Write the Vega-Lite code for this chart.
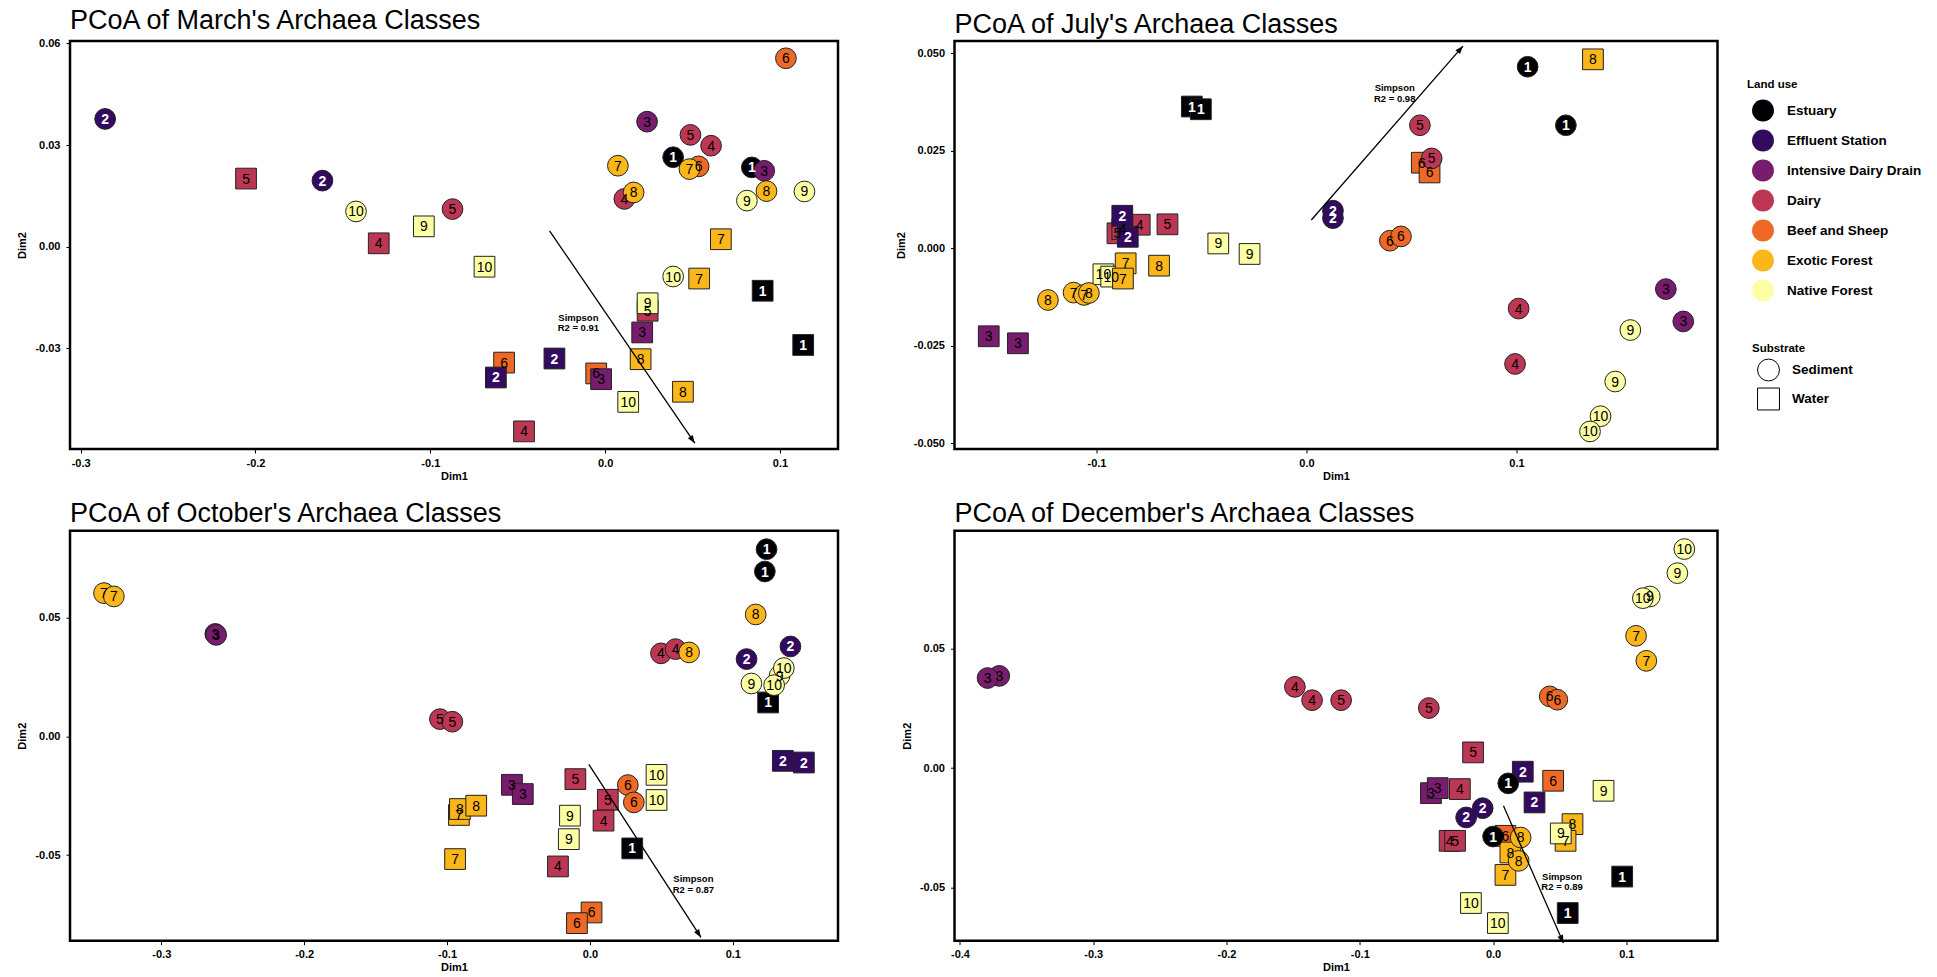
{
  "$schema": "https://vega.github.io/schema/vega-lite/v6.json",
  "background": "white",
  "padding": {"left": 15, "top": 5, "right": 0, "bottom": 0},
  "datasets": {
    "points": [
      {"month":"March","site":5,"substrate":"Water","landuse":"Dairy","dim1":-0.2054,"dim2":0.0201},
      {"month":"March","site":9,"substrate":"Water","landuse":"Native Forest","dim1":-0.1037,"dim2":0.006},
      {"month":"March","site":4,"substrate":"Water","landuse":"Dairy","dim1":-0.1295,"dim2":0.001},
      {"month":"March","site":10,"substrate":"Water","landuse":"Native Forest","dim1":-0.069,"dim2":-0.0059},
      {"month":"March","site":7,"substrate":"Water","landuse":"Exotic Forest","dim1":0.0662,"dim2":0.0022},
      {"month":"March","site":7,"substrate":"Water","landuse":"Exotic Forest","dim1":0.0538,"dim2":-0.0094},
      {"month":"March","site":1,"substrate":"Water","landuse":"Estuary","dim1":0.0901,"dim2":-0.013},
      {"month":"March","site":1,"substrate":"Water","landuse":"Estuary","dim1":0.1133,"dim2":-0.029},
      {"month":"March","site":5,"substrate":"Water","landuse":"Dairy","dim1":0.0243,"dim2":-0.0189},
      {"month":"March","site":9,"substrate":"Water","landuse":"Native Forest","dim1":0.0243,"dim2":-0.0167},
      {"month":"March","site":3,"substrate":"Water","landuse":"Intensive Dairy Drain","dim1":0.0212,"dim2":-0.0253},
      {"month":"March","site":8,"substrate":"Water","landuse":"Exotic Forest","dim1":0.0203,"dim2":-0.0332},
      {"month":"March","site":6,"substrate":"Water","landuse":"Beef and Sheep","dim1":-0.0578,"dim2":-0.0342},
      {"month":"March","site":2,"substrate":"Water","landuse":"Effluent Station","dim1":-0.029,"dim2":-0.033},
      {"month":"March","site":2,"substrate":"Water","landuse":"Effluent Station","dim1":-0.0625,"dim2":-0.0386},
      {"month":"March","site":6,"substrate":"Water","landuse":"Beef and Sheep","dim1":-0.0051,"dim2":-0.0374},
      {"month":"March","site":3,"substrate":"Water","landuse":"Intensive Dairy Drain","dim1":-0.0023,"dim2":-0.0391},
      {"month":"March","site":8,"substrate":"Water","landuse":"Exotic Forest","dim1":0.0445,"dim2":-0.0428},
      {"month":"March","site":10,"substrate":"Water","landuse":"Native Forest","dim1":0.0132,"dim2":-0.0458},
      {"month":"March","site":4,"substrate":"Water","landuse":"Dairy","dim1":-0.0464,"dim2":-0.0545},
      {"month":"March","site":2,"substrate":"Sediment","landuse":"Effluent Station","dim1":-0.286,"dim2":0.0377},
      {"month":"March","site":2,"substrate":"Sediment","landuse":"Effluent Station","dim1":-0.1617,"dim2":0.0195},
      {"month":"March","site":10,"substrate":"Sediment","landuse":"Native Forest","dim1":-0.1425,"dim2":0.0104},
      {"month":"March","site":5,"substrate":"Sediment","landuse":"Dairy","dim1":-0.0873,"dim2":0.0111},
      {"month":"March","site":3,"substrate":"Sediment","landuse":"Intensive Dairy Drain","dim1":0.024,"dim2":0.0369},
      {"month":"March","site":5,"substrate":"Sediment","landuse":"Dairy","dim1":0.0488,"dim2":0.033},
      {"month":"March","site":4,"substrate":"Sediment","landuse":"Dairy","dim1":0.0606,"dim2":0.0298},
      {"month":"March","site":1,"substrate":"Sediment","landuse":"Estuary","dim1":0.0389,"dim2":0.0264},
      {"month":"March","site":7,"substrate":"Sediment","landuse":"Exotic Forest","dim1":0.0073,"dim2":0.0239},
      {"month":"March","site":6,"substrate":"Sediment","landuse":"Beef and Sheep","dim1":0.0535,"dim2":0.0237},
      {"month":"March","site":7,"substrate":"Sediment","landuse":"Exotic Forest","dim1":0.0482,"dim2":0.0229},
      {"month":"March","site":1,"substrate":"Sediment","landuse":"Estuary","dim1":0.0839,"dim2":0.0234},
      {"month":"March","site":3,"substrate":"Sediment","landuse":"Intensive Dairy Drain","dim1":0.091,"dim2":0.0224},
      {"month":"March","site":4,"substrate":"Sediment","landuse":"Dairy","dim1":0.011,"dim2":0.0141},
      {"month":"March","site":8,"substrate":"Sediment","landuse":"Exotic Forest","dim1":0.0163,"dim2":0.016},
      {"month":"March","site":9,"substrate":"Sediment","landuse":"Native Forest","dim1":0.0811,"dim2":0.0136},
      {"month":"March","site":8,"substrate":"Sediment","landuse":"Exotic Forest","dim1":0.0923,"dim2":0.0164},
      {"month":"March","site":9,"substrate":"Sediment","landuse":"Native Forest","dim1":0.114,"dim2":0.0163},
      {"month":"March","site":10,"substrate":"Sediment","landuse":"Native Forest","dim1":0.0389,"dim2":-0.0088},
      {"month":"March","site":6,"substrate":"Sediment","landuse":"Beef and Sheep","dim1":0.1034,"dim2":0.0556},

      {"month":"July","site":8,"substrate":"Water","landuse":"Exotic Forest","dim1":0.1364,"dim2":0.0484},
      {"month":"July","site":1,"substrate":"Water","landuse":"Estuary","dim1":-0.0546,"dim2":0.0363},
      {"month":"July","site":1,"substrate":"Water","landuse":"Estuary","dim1":-0.0503,"dim2":0.0356},
      {"month":"July","site":6,"substrate":"Water","landuse":"Beef and Sheep","dim1":0.0549,"dim2":0.0219},
      {"month":"July","site":6,"substrate":"Water","landuse":"Beef and Sheep","dim1":0.0586,"dim2":0.0194},
      {"month":"July","site":4,"substrate":"Water","landuse":"Dairy","dim1":-0.0794,"dim2":0.006},
      {"month":"July","site":5,"substrate":"Water","landuse":"Dairy","dim1":-0.0662,"dim2":0.0061},
      {"month":"July","site":5,"substrate":"Water","landuse":"Dairy","dim1":-0.09,"dim2":0.0038},
      {"month":"July","site":4,"substrate":"Water","landuse":"Dairy","dim1":-0.0877,"dim2":0.0049},
      {"month":"July","site":2,"substrate":"Water","landuse":"Effluent Station","dim1":-0.0877,"dim2":0.0083},
      {"month":"July","site":2,"substrate":"Water","landuse":"Effluent Station","dim1":-0.0851,"dim2":0.0029},
      {"month":"July","site":9,"substrate":"Water","landuse":"Native Forest","dim1":-0.042,"dim2":0.0012},
      {"month":"July","site":9,"substrate":"Water","landuse":"Native Forest","dim1":-0.0271,"dim2":-0.0015},
      {"month":"July","site":10,"substrate":"Water","landuse":"Native Forest","dim1":-0.0967,"dim2":-0.0067},
      {"month":"July","site":10,"substrate":"Water","landuse":"Native Forest","dim1":-0.093,"dim2":-0.0073},
      {"month":"July","site":7,"substrate":"Water","landuse":"Exotic Forest","dim1":-0.0861,"dim2":-0.0039},
      {"month":"July","site":7,"substrate":"Water","landuse":"Exotic Forest","dim1":-0.0874,"dim2":-0.0078},
      {"month":"July","site":8,"substrate":"Water","landuse":"Exotic Forest","dim1":-0.0702,"dim2":-0.0045},
      {"month":"July","site":3,"substrate":"Water","landuse":"Intensive Dairy Drain","dim1":-0.1513,"dim2":-0.0226},
      {"month":"July","site":3,"substrate":"Water","landuse":"Intensive Dairy Drain","dim1":-0.1374,"dim2":-0.0244},
      {"month":"July","site":1,"substrate":"Sediment","landuse":"Estuary","dim1":0.1053,"dim2":0.0465},
      {"month":"July","site":1,"substrate":"Sediment","landuse":"Estuary","dim1":0.1235,"dim2":0.0315},
      {"month":"July","site":5,"substrate":"Sediment","landuse":"Dairy","dim1":0.054,"dim2":0.0315},
      {"month":"July","site":5,"substrate":"Sediment","landuse":"Dairy","dim1":0.0596,"dim2":0.023},
      {"month":"July","site":2,"substrate":"Sediment","landuse":"Effluent Station","dim1":0.0126,"dim2":0.0096},
      {"month":"July","site":2,"substrate":"Sediment","landuse":"Effluent Station","dim1":0.0126,"dim2":0.0077},
      {"month":"July","site":6,"substrate":"Sediment","landuse":"Beef and Sheep","dim1":0.0397,"dim2":0.0019},
      {"month":"July","site":6,"substrate":"Sediment","landuse":"Beef and Sheep","dim1":0.045,"dim2":0.003},
      {"month":"July","site":8,"substrate":"Sediment","landuse":"Exotic Forest","dim1":-0.1231,"dim2":-0.0133},
      {"month":"July","site":7,"substrate":"Sediment","landuse":"Exotic Forest","dim1":-0.1109,"dim2":-0.0114},
      {"month":"July","site":7,"substrate":"Sediment","landuse":"Exotic Forest","dim1":-0.1059,"dim2":-0.012},
      {"month":"July","site":8,"substrate":"Sediment","landuse":"Exotic Forest","dim1":-0.1036,"dim2":-0.0115},
      {"month":"July","site":4,"substrate":"Sediment","landuse":"Dairy","dim1":0.101,"dim2":-0.0155},
      {"month":"July","site":4,"substrate":"Sediment","landuse":"Dairy","dim1":0.0993,"dim2":-0.0297},
      {"month":"July","site":3,"substrate":"Sediment","landuse":"Intensive Dairy Drain","dim1":0.1711,"dim2":-0.0105},
      {"month":"July","site":3,"substrate":"Sediment","landuse":"Intensive Dairy Drain","dim1":0.1794,"dim2":-0.0188},
      {"month":"July","site":9,"substrate":"Sediment","landuse":"Native Forest","dim1":0.1542,"dim2":-0.021},
      {"month":"July","site":9,"substrate":"Sediment","landuse":"Native Forest","dim1":0.147,"dim2":-0.0342},
      {"month":"July","site":10,"substrate":"Sediment","landuse":"Native Forest","dim1":0.14,"dim2":-0.0431},
      {"month":"July","site":10,"substrate":"Sediment","landuse":"Native Forest","dim1":0.135,"dim2":-0.047},

      {"month":"October","site":1,"substrate":"Water","landuse":"Estuary","dim1":0.1247,"dim2":0.0143},
      {"month":"October","site":2,"substrate":"Water","landuse":"Effluent Station","dim1":0.135,"dim2":-0.0103},
      {"month":"October","site":2,"substrate":"Water","landuse":"Effluent Station","dim1":0.1497,"dim2":-0.011},
      {"month":"October","site":10,"substrate":"Water","landuse":"Native Forest","dim1":0.0466,"dim2":-0.0162},
      {"month":"October","site":10,"substrate":"Water","landuse":"Native Forest","dim1":0.0466,"dim2":-0.0268},
      {"month":"October","site":5,"substrate":"Water","landuse":"Dairy","dim1":-0.0102,"dim2":-0.018},
      {"month":"October","site":5,"substrate":"Water","landuse":"Dairy","dim1":0.0125,"dim2":-0.0267},
      {"month":"October","site":3,"substrate":"Water","landuse":"Intensive Dairy Drain","dim1":-0.0546,"dim2":-0.0204},
      {"month":"October","site":3,"substrate":"Water","landuse":"Intensive Dairy Drain","dim1":-0.047,"dim2":-0.0243},
      {"month":"October","site":7,"substrate":"Water","landuse":"Exotic Forest","dim1":-0.0917,"dim2":-0.0331},
      {"month":"October","site":8,"substrate":"Water","landuse":"Exotic Forest","dim1":-0.091,"dim2":-0.0306},
      {"month":"October","site":8,"substrate":"Water","landuse":"Exotic Forest","dim1":-0.0796,"dim2":-0.0292},
      {"month":"October","site":7,"substrate":"Water","landuse":"Exotic Forest","dim1":-0.0944,"dim2":-0.0517},
      {"month":"October","site":9,"substrate":"Water","landuse":"Native Forest","dim1":-0.014,"dim2":-0.0334},
      {"month":"October","site":9,"substrate":"Water","landuse":"Native Forest","dim1":-0.0148,"dim2":-0.0433},
      {"month":"October","site":4,"substrate":"Water","landuse":"Dairy","dim1":0.0095,"dim2":-0.0355},
      {"month":"October","site":4,"substrate":"Water","landuse":"Dairy","dim1":-0.0224,"dim2":-0.0548},
      {"month":"October","site":1,"substrate":"Water","landuse":"Estuary","dim1":0.0296,"dim2":-0.0472},
      {"month":"October","site":6,"substrate":"Water","landuse":"Beef and Sheep","dim1":0.0011,"dim2":-0.0742},
      {"month":"October","site":6,"substrate":"Water","landuse":"Beef and Sheep","dim1":-0.0091,"dim2":-0.0787},
      {"month":"October","site":1,"substrate":"Sediment","landuse":"Estuary","dim1":0.1236,"dim2":0.0789},
      {"month":"October","site":1,"substrate":"Sediment","landuse":"Estuary","dim1":0.1224,"dim2":0.0695},
      {"month":"October","site":7,"substrate":"Sediment","landuse":"Exotic Forest","dim1":-0.3401,"dim2":0.0604},
      {"month":"October","site":7,"substrate":"Sediment","landuse":"Exotic Forest","dim1":-0.3332,"dim2":0.059},
      {"month":"October","site":3,"substrate":"Sediment","landuse":"Intensive Dairy Drain","dim1":-0.2622,"dim2":0.0432},
      {"month":"October","site":3,"substrate":"Sediment","landuse":"Intensive Dairy Drain","dim1":-0.2616,"dim2":0.0428},
      {"month":"October","site":8,"substrate":"Sediment","landuse":"Exotic Forest","dim1":0.116,"dim2":0.0514},
      {"month":"October","site":4,"substrate":"Sediment","landuse":"Dairy","dim1":0.0497,"dim2":0.035},
      {"month":"October","site":4,"substrate":"Sediment","landuse":"Dairy","dim1":0.0599,"dim2":0.0368},
      {"month":"October","site":8,"substrate":"Sediment","landuse":"Exotic Forest","dim1":0.0694,"dim2":0.0354},
      {"month":"October","site":2,"substrate":"Sediment","landuse":"Effluent Station","dim1":0.1403,"dim2":0.0379},
      {"month":"October","site":2,"substrate":"Sediment","landuse":"Effluent Station","dim1":0.1096,"dim2":0.0326},
      {"month":"October","site":9,"substrate":"Sediment","landuse":"Native Forest","dim1":0.1327,"dim2":0.0256},
      {"month":"October","site":10,"substrate":"Sediment","landuse":"Native Forest","dim1":0.1357,"dim2":0.0288},
      {"month":"October","site":9,"substrate":"Sediment","landuse":"Native Forest","dim1":0.113,"dim2":0.0223},
      {"month":"October","site":10,"substrate":"Sediment","landuse":"Native Forest","dim1":0.1289,"dim2":0.0216},
      {"month":"October","site":5,"substrate":"Sediment","landuse":"Dairy","dim1":-0.105,"dim2":0.0073},
      {"month":"October","site":5,"substrate":"Sediment","landuse":"Dairy","dim1":-0.0963,"dim2":0.0062},
      {"month":"October","site":6,"substrate":"Sediment","landuse":"Beef and Sheep","dim1":0.0265,"dim2":-0.0205},
      {"month":"October","site":6,"substrate":"Sediment","landuse":"Beef and Sheep","dim1":0.0307,"dim2":-0.0278},

      {"month":"December","site":5,"substrate":"Water","landuse":"Dairy","dim1":-0.015,"dim2":0.0066},
      {"month":"December","site":2,"substrate":"Water","landuse":"Effluent Station","dim1":0.0223,"dim2":-0.0015},
      {"month":"December","site":6,"substrate":"Water","landuse":"Beef and Sheep","dim1":0.0451,"dim2":-0.0053},
      {"month":"December","site":9,"substrate":"Water","landuse":"Native Forest","dim1":0.0829,"dim2":-0.0095},
      {"month":"December","site":3,"substrate":"Water","landuse":"Intensive Dairy Drain","dim1":-0.0466,"dim2":-0.0105},
      {"month":"December","site":3,"substrate":"Water","landuse":"Intensive Dairy Drain","dim1":-0.0415,"dim2":-0.0084},
      {"month":"December","site":4,"substrate":"Water","landuse":"Dairy","dim1":-0.0249,"dim2":-0.0088},
      {"month":"December","site":2,"substrate":"Water","landuse":"Effluent Station","dim1":0.0311,"dim2":-0.0144},
      {"month":"December","site":8,"substrate":"Water","landuse":"Exotic Forest","dim1":0.0596,"dim2":-0.0235},
      {"month":"December","site":7,"substrate":"Water","landuse":"Exotic Forest","dim1":0.0544,"dim2":-0.0305},
      {"month":"December","site":9,"substrate":"Water","landuse":"Native Forest","dim1":0.0508,"dim2":-0.0274},
      {"month":"December","site":4,"substrate":"Water","landuse":"Dairy","dim1":-0.0326,"dim2":-0.0305},
      {"month":"December","site":5,"substrate":"Water","landuse":"Dairy","dim1":-0.0285,"dim2":-0.0305},
      {"month":"December","site":6,"substrate":"Water","landuse":"Beef and Sheep","dim1":0.0093,"dim2":-0.0284},
      {"month":"December","site":8,"substrate":"Water","landuse":"Exotic Forest","dim1":0.013,"dim2":-0.0354},
      {"month":"December","site":7,"substrate":"Water","landuse":"Exotic Forest","dim1":0.0093,"dim2":-0.0448},
      {"month":"December","site":1,"substrate":"Water","landuse":"Estuary","dim1":0.0969,"dim2":-0.0455},
      {"month":"December","site":1,"substrate":"Water","landuse":"Estuary","dim1":0.056,"dim2":-0.0608},
      {"month":"December","site":10,"substrate":"Water","landuse":"Native Forest","dim1":-0.0166,"dim2":-0.0566},
      {"month":"December","site":10,"substrate":"Water","landuse":"Native Forest","dim1":0.0036,"dim2":-0.065},
      {"month":"December","site":10,"substrate":"Sediment","landuse":"Native Forest","dim1":0.1435,"dim2":0.0919},
      {"month":"December","site":9,"substrate":"Sediment","landuse":"Native Forest","dim1":0.1383,"dim2":0.0818},
      {"month":"December","site":9,"substrate":"Sediment","landuse":"Native Forest","dim1":0.1176,"dim2":0.072},
      {"month":"December","site":10,"substrate":"Sediment","landuse":"Native Forest","dim1":0.1124,"dim2":0.0713},
      {"month":"December","site":7,"substrate":"Sediment","landuse":"Exotic Forest","dim1":0.1073,"dim2":0.0555},
      {"month":"December","site":7,"substrate":"Sediment","landuse":"Exotic Forest","dim1":0.115,"dim2":0.045},
      {"month":"December","site":3,"substrate":"Sediment","landuse":"Intensive Dairy Drain","dim1":-0.3705,"dim2":0.0387},
      {"month":"December","site":3,"substrate":"Sediment","landuse":"Intensive Dairy Drain","dim1":-0.3793,"dim2":0.0378},
      {"month":"December","site":4,"substrate":"Sediment","landuse":"Dairy","dim1":-0.1487,"dim2":0.0341},
      {"month":"December","site":4,"substrate":"Sediment","landuse":"Dairy","dim1":-0.1358,"dim2":0.0285},
      {"month":"December","site":5,"substrate":"Sediment","landuse":"Dairy","dim1":-0.114,"dim2":0.0285},
      {"month":"December","site":5,"substrate":"Sediment","landuse":"Dairy","dim1":-0.0482,"dim2":0.0252},
      {"month":"December","site":6,"substrate":"Sediment","landuse":"Beef and Sheep","dim1":0.0425,"dim2":0.0301},
      {"month":"December","site":6,"substrate":"Sediment","landuse":"Beef and Sheep","dim1":0.0482,"dim2":0.0287},
      {"month":"December","site":1,"substrate":"Sediment","landuse":"Estuary","dim1":0.0114,"dim2":-0.0064},
      {"month":"December","site":2,"substrate":"Sediment","landuse":"Effluent Station","dim1":-0.0078,"dim2":-0.0168},
      {"month":"December","site":2,"substrate":"Sediment","landuse":"Effluent Station","dim1":-0.0202,"dim2":-0.0207},
      {"month":"December","site":1,"substrate":"Sediment","landuse":"Estuary","dim1":0.0,"dim2":-0.0287},
      {"month":"December","site":8,"substrate":"Sediment","landuse":"Exotic Forest","dim1":0.0192,"dim2":-0.0389},
      {"month":"December","site":8,"substrate":"Sediment","landuse":"Exotic Forest","dim1":0.0207,"dim2":-0.0291}
    ],
    "arrows": [
      {"month":"March","dim1":-0.0318,"dim2":0.0047,"dim1_end":0.0513,"dim2_end":-0.058,"label_dim1":-0.0153,"label_dim2":-0.0209,"label":"Simpson\nR2 = 0.91"},
      {"month":"July","dim1":0.0023,"dim2":0.0072,"dim1_end":0.0745,"dim2_end":0.0518,"label_dim1":0.042,"label_dim2":0.041,"label":"Simpson\nR2 = 0.98"},
      {"month":"October","dim1":-0.0008,"dim2":-0.0118,"dim1_end":0.0777,"dim2_end":-0.0847,"label_dim1":0.0724,"label_dim2":-0.0601,"label":"Simpson\nR2 = 0.87"},
      {"month":"December","dim1":0.0078,"dim2":-0.0158,"dim1_end":0.0528,"dim2_end":-0.0734,"label_dim1":0.0518,"label_dim2":-0.0455,"label":"Simpson\nR2 = 0.89"}
    ]
  },
  "columns": 2,
  "spacing": {"row": 81.7, "column": 116.5},
  "bounds": "flush",
  "concat": [
    {
      "width": 768, "height": 408,
      "title": {"text": "PCoA of March's Archaea Classes"},
      "data": {"name": "points"},
      "encoding": {
        "x": {"field": "dim1", "type": "quantitative", "title": "Dim1", "scale": {"domain": [-0.3061, 0.1332], "nice": false, "zero": false}, "axis": {"values": [-0.3, -0.2, -0.1, 0, 0.1], "format": ".1f", "labelExpr": "replace(datum.label, '−', '-')"}},
        "y": {"field": "dim2", "type": "quantitative", "title": "Dim2", "scale": {"domain": [-0.0597, 0.0607], "nice": false, "zero": false}, "axis": {"values": [-0.03, 0, 0.03, 0.06], "format": ".2f", "labelExpr": "replace(datum.label, '−', '-')"}}
      },
      "layer": [
        {
          "transform": [{"filter": "datum.month == 'March'"}],
          "mark": {"type": "point", "filled": true, "size": 430, "stroke": "#222222", "strokeWidth": 1, "opacity": 1},
          "encoding": {
            "fill": {"field": "landuse", "type": "nominal", "scale": {"domain": ["Estuary", "Effluent Station", "Intensive Dairy Drain", "Dairy", "Beef and Sheep", "Exotic Forest", "Native Forest"], "range": ["#000004", "#320A5E", "#781C6D", "#BB3754", "#ED6925", "#FBB61A", "#FCFFA4"]}, "legend": {"title": "Land use", "orient": "none", "legendX": 1677, "legendY": 38, "symbolType": "circle", "symbolSize": 480, "symbolStrokeWidth": 0, "symbolOffset": 5, "labelOffset": 13, "rowPadding": 8, "titlePadding": 9, "padding": 0, "encode": {"symbols": {"update": {"strokeWidth": {"value": 0}, "opacity": {"value": 1}}}}}},
            "shape": {"field": "substrate", "type": "nominal", "scale": {"domain": ["Sediment", "Water"], "range": ["circle", "square"]}, "legend": {"title": "Substrate", "orient": "none", "legendX": 1682, "legendY": 302, "symbolSize": 480, "symbolFillColor": "white", "symbolStrokeColor": "black", "symbolStrokeWidth": 1, "symbolOffset": 5, "labelOffset": 12, "rowPadding": 2, "titlePadding": 4, "padding": 0}}
          }
        },
        {
          "transform": [{"filter": "datum.month == 'March' && datum.site <= 2"}],
          "mark": {"type": "text", "fontSize": 14, "fontWeight": "bold", "color": "white", "align": "center", "baseline": "middle", "dy": 1},
          "encoding": {"text": {"field": "site", "type": "nominal"}}
        },
        {
          "transform": [{"filter": "datum.month == 'March' && datum.site > 2"}],
          "mark": {"type": "text", "fontSize": 14, "color": "black", "align": "center", "baseline": "middle", "dy": 1},
          "encoding": {"text": {"field": "site", "type": "nominal"}}
        },
        {
          "data": {"name": "arrows"},
          "transform": [{"filter": "datum.month == 'March'"}],
          "mark": {"type": "rule", "color": "black", "strokeWidth": 1.3},
          "encoding": {"x2": {"field": "dim1_end"}, "y2": {"field": "dim2_end"}}
        },
        {
          "data": {"name": "arrows"},
          "transform": [{"filter": "datum.month == 'March'"}],
          "mark": {"type": "point", "shape": "M0,0L-0.6,1.6L0.6,1.6Z", "size": 100, "filled": true, "color": "black", "strokeWidth": 0, "opacity": 1, "angle": 145.6},
          "encoding": {
            "x": {"field": "dim1_end", "type": "quantitative", "title": "Dim1", "scale": {"domain": [-0.3061, 0.1332], "nice": false, "zero": false}},
            "y": {"field": "dim2_end", "type": "quantitative", "title": "Dim2", "scale": {"domain": [-0.0597, 0.0607], "nice": false, "zero": false}}
          }
        },
        {
          "data": {"name": "arrows"},
          "transform": [{"filter": "datum.month == 'March'"}],
          "mark": {"type": "text", "fontSize": 9.5, "fontWeight": "bold", "color": "black", "align": "center", "baseline": "middle", "lineBreak": "\n", "lineHeight": 10.5},
          "encoding": {
            "x": {"field": "label_dim1", "type": "quantitative", "title": "Dim1", "scale": {"domain": [-0.3061, 0.1332], "nice": false, "zero": false}},
            "y": {"field": "label_dim2", "type": "quantitative", "title": "Dim2", "scale": {"domain": [-0.0597, 0.0607], "nice": false, "zero": false}},
            "text": {"field": "label", "type": "nominal"}
          }
        }
      ]
    },
    {
      "width": 763, "height": 408,
      "title": {"text": "PCoA of July's Archaea Classes"},
      "data": {"name": "points"},
      "encoding": {
        "x": {"field": "dim1", "type": "quantitative", "title": "Dim1", "scale": {"domain": [-0.1676, 0.1957], "nice": false, "zero": false}, "axis": {"values": [-0.1, 0, 0.1], "format": ".1f", "labelExpr": "replace(datum.label, '−', '-')"}},
        "y": {"field": "dim2", "type": "quantitative", "title": "Dim2", "scale": {"domain": [-0.0515, 0.0531], "nice": false, "zero": false}, "axis": {"values": [-0.05, -0.025, 0, 0.025, 0.05], "format": ".3f", "labelExpr": "replace(datum.label, '−', '-')"}}
      },
      "layer": [
        {
          "transform": [{"filter": "datum.month == 'July'"}],
          "mark": {"type": "point", "filled": true, "size": 430, "stroke": "#222222", "strokeWidth": 1, "opacity": 1},
          "encoding": {
            "fill": {"field": "landuse", "type": "nominal", "scale": {"domain": ["Estuary", "Effluent Station", "Intensive Dairy Drain", "Dairy", "Beef and Sheep", "Exotic Forest", "Native Forest"], "range": ["#000004", "#320A5E", "#781C6D", "#BB3754", "#ED6925", "#FBB61A", "#FCFFA4"]}, "legend": {"title": "Land use", "orient": "none", "legendX": 1677, "legendY": 38, "symbolType": "circle", "symbolSize": 480, "symbolStrokeWidth": 0, "symbolOffset": 5, "labelOffset": 13, "rowPadding": 8, "titlePadding": 9, "padding": 0, "encode": {"symbols": {"update": {"strokeWidth": {"value": 0}, "opacity": {"value": 1}}}}}},
            "shape": {"field": "substrate", "type": "nominal", "scale": {"domain": ["Sediment", "Water"], "range": ["circle", "square"]}, "legend": {"title": "Substrate", "orient": "none", "legendX": 1682, "legendY": 302, "symbolSize": 480, "symbolFillColor": "white", "symbolStrokeColor": "black", "symbolStrokeWidth": 1, "symbolOffset": 5, "labelOffset": 12, "rowPadding": 2, "titlePadding": 4, "padding": 0}}
          }
        },
        {
          "transform": [{"filter": "datum.month == 'July' && datum.site <= 2"}],
          "mark": {"type": "text", "fontSize": 14, "fontWeight": "bold", "color": "white", "align": "center", "baseline": "middle", "dy": 1},
          "encoding": {"text": {"field": "site", "type": "nominal"}}
        },
        {
          "transform": [{"filter": "datum.month == 'July' && datum.site > 2"}],
          "mark": {"type": "text", "fontSize": 14, "color": "black", "align": "center", "baseline": "middle", "dy": 1},
          "encoding": {"text": {"field": "site", "type": "nominal"}}
        },
        {
          "data": {"name": "arrows"},
          "transform": [{"filter": "datum.month == 'July'"}],
          "mark": {"type": "rule", "color": "black", "strokeWidth": 1.3},
          "encoding": {"x2": {"field": "dim1_end"}, "y2": {"field": "dim2_end"}}
        },
        {
          "data": {"name": "arrows"},
          "transform": [{"filter": "datum.month == 'July'"}],
          "mark": {"type": "point", "shape": "M0,0L-0.6,1.6L0.6,1.6Z", "size": 100, "filled": true, "color": "black", "strokeWidth": 0, "opacity": 1, "angle": 40.9},
          "encoding": {
            "x": {"field": "dim1_end", "type": "quantitative", "title": "Dim1", "scale": {"domain": [-0.1676, 0.1957], "nice": false, "zero": false}},
            "y": {"field": "dim2_end", "type": "quantitative", "title": "Dim2", "scale": {"domain": [-0.0515, 0.0531], "nice": false, "zero": false}}
          }
        },
        {
          "data": {"name": "arrows"},
          "transform": [{"filter": "datum.month == 'July'"}],
          "mark": {"type": "text", "fontSize": 9.5, "fontWeight": "bold", "color": "black", "align": "center", "baseline": "middle", "lineBreak": "\n", "lineHeight": 10.5},
          "encoding": {
            "x": {"field": "label_dim1", "type": "quantitative", "title": "Dim1", "scale": {"domain": [-0.1676, 0.1957], "nice": false, "zero": false}},
            "y": {"field": "label_dim2", "type": "quantitative", "title": "Dim2", "scale": {"domain": [-0.0515, 0.0531], "nice": false, "zero": false}},
            "text": {"field": "label", "type": "nominal"}
          }
        }
      ]
    },
    {
      "width": 768, "height": 410,
      "title": {"text": "PCoA of October's Archaea Classes"},
      "data": {"name": "points"},
      "encoding": {
        "x": {"field": "dim1", "type": "quantitative", "title": "Dim1", "scale": {"domain": [-0.3639, 0.1736], "nice": false, "zero": false}, "axis": {"values": [-0.3, -0.2, -0.1, 0, 0.1], "format": ".1f", "labelExpr": "replace(datum.label, '−', '-')"}},
        "y": {"field": "dim2", "type": "quantitative", "title": "Dim2", "scale": {"domain": [-0.0861, 0.0867], "nice": false, "zero": false}, "axis": {"values": [-0.05, 0, 0.05], "format": ".2f", "labelExpr": "replace(datum.label, '−', '-')"}}
      },
      "layer": [
        {
          "transform": [{"filter": "datum.month == 'October'"}],
          "mark": {"type": "point", "filled": true, "size": 430, "stroke": "#222222", "strokeWidth": 1, "opacity": 1},
          "encoding": {
            "fill": {"field": "landuse", "type": "nominal", "scale": {"domain": ["Estuary", "Effluent Station", "Intensive Dairy Drain", "Dairy", "Beef and Sheep", "Exotic Forest", "Native Forest"], "range": ["#000004", "#320A5E", "#781C6D", "#BB3754", "#ED6925", "#FBB61A", "#FCFFA4"]}, "legend": {"title": "Land use", "orient": "none", "legendX": 1677, "legendY": 38, "symbolType": "circle", "symbolSize": 480, "symbolStrokeWidth": 0, "symbolOffset": 5, "labelOffset": 13, "rowPadding": 8, "titlePadding": 9, "padding": 0, "encode": {"symbols": {"update": {"strokeWidth": {"value": 0}, "opacity": {"value": 1}}}}}},
            "shape": {"field": "substrate", "type": "nominal", "scale": {"domain": ["Sediment", "Water"], "range": ["circle", "square"]}, "legend": {"title": "Substrate", "orient": "none", "legendX": 1682, "legendY": 302, "symbolSize": 480, "symbolFillColor": "white", "symbolStrokeColor": "black", "symbolStrokeWidth": 1, "symbolOffset": 5, "labelOffset": 12, "rowPadding": 2, "titlePadding": 4, "padding": 0}}
          }
        },
        {
          "transform": [{"filter": "datum.month == 'October' && datum.site <= 2"}],
          "mark": {"type": "text", "fontSize": 14, "fontWeight": "bold", "color": "white", "align": "center", "baseline": "middle", "dy": 1},
          "encoding": {"text": {"field": "site", "type": "nominal"}}
        },
        {
          "transform": [{"filter": "datum.month == 'October' && datum.site > 2"}],
          "mark": {"type": "text", "fontSize": 14, "color": "black", "align": "center", "baseline": "middle", "dy": 1},
          "encoding": {"text": {"field": "site", "type": "nominal"}}
        },
        {
          "data": {"name": "arrows"},
          "transform": [{"filter": "datum.month == 'October'"}],
          "mark": {"type": "rule", "color": "black", "strokeWidth": 1.3},
          "encoding": {"x2": {"field": "dim1_end"}, "y2": {"field": "dim2_end"}}
        },
        {
          "data": {"name": "arrows"},
          "transform": [{"filter": "datum.month == 'October'"}],
          "mark": {"type": "point", "shape": "M0,0L-0.6,1.6L0.6,1.6Z", "size": 100, "filled": true, "color": "black", "strokeWidth": 0, "opacity": 1, "angle": 147.0},
          "encoding": {
            "x": {"field": "dim1_end", "type": "quantitative", "title": "Dim1", "scale": {"domain": [-0.3639, 0.1736], "nice": false, "zero": false}},
            "y": {"field": "dim2_end", "type": "quantitative", "title": "Dim2", "scale": {"domain": [-0.0861, 0.0867], "nice": false, "zero": false}}
          }
        },
        {
          "data": {"name": "arrows"},
          "transform": [{"filter": "datum.month == 'October'"}],
          "mark": {"type": "text", "fontSize": 9.5, "fontWeight": "bold", "color": "black", "align": "center", "baseline": "middle", "lineBreak": "\n", "lineHeight": 10.5},
          "encoding": {
            "x": {"field": "label_dim1", "type": "quantitative", "title": "Dim1", "scale": {"domain": [-0.3639, 0.1736], "nice": false, "zero": false}},
            "y": {"field": "label_dim2", "type": "quantitative", "title": "Dim2", "scale": {"domain": [-0.0861, 0.0867], "nice": false, "zero": false}},
            "text": {"field": "label", "type": "nominal"}
          }
        }
      ]
    },
    {
      "width": 763, "height": 410,
      "title": {"text": "PCoA of December's Archaea Classes"},
      "data": {"name": "points"},
      "encoding": {
        "x": {"field": "dim1", "type": "quantitative", "title": "Dim1", "scale": {"domain": [-0.4041, 0.1684], "nice": false, "zero": false}, "axis": {"values": [-0.4, -0.3, -0.2, -0.1, 0, 0.1], "format": ".1f", "labelExpr": "replace(datum.label, '−', '-')"}},
        "y": {"field": "dim2", "type": "quantitative", "title": "Dim2", "scale": {"domain": [-0.0724, 0.0996], "nice": false, "zero": false}, "axis": {"values": [-0.05, 0, 0.05], "format": ".2f", "labelExpr": "replace(datum.label, '−', '-')"}}
      },
      "layer": [
        {
          "transform": [{"filter": "datum.month == 'December'"}],
          "mark": {"type": "point", "filled": true, "size": 430, "stroke": "#222222", "strokeWidth": 1, "opacity": 1},
          "encoding": {
            "fill": {"field": "landuse", "type": "nominal", "scale": {"domain": ["Estuary", "Effluent Station", "Intensive Dairy Drain", "Dairy", "Beef and Sheep", "Exotic Forest", "Native Forest"], "range": ["#000004", "#320A5E", "#781C6D", "#BB3754", "#ED6925", "#FBB61A", "#FCFFA4"]}, "legend": {"title": "Land use", "orient": "none", "legendX": 1677, "legendY": 38, "symbolType": "circle", "symbolSize": 480, "symbolStrokeWidth": 0, "symbolOffset": 5, "labelOffset": 13, "rowPadding": 8, "titlePadding": 9, "padding": 0, "encode": {"symbols": {"update": {"strokeWidth": {"value": 0}, "opacity": {"value": 1}}}}}},
            "shape": {"field": "substrate", "type": "nominal", "scale": {"domain": ["Sediment", "Water"], "range": ["circle", "square"]}, "legend": {"title": "Substrate", "orient": "none", "legendX": 1682, "legendY": 302, "symbolSize": 480, "symbolFillColor": "white", "symbolStrokeColor": "black", "symbolStrokeWidth": 1, "symbolOffset": 5, "labelOffset": 12, "rowPadding": 2, "titlePadding": 4, "padding": 0}}
          }
        },
        {
          "transform": [{"filter": "datum.month == 'December' && datum.site <= 2"}],
          "mark": {"type": "text", "fontSize": 14, "fontWeight": "bold", "color": "white", "align": "center", "baseline": "middle", "dy": 1},
          "encoding": {"text": {"field": "site", "type": "nominal"}}
        },
        {
          "transform": [{"filter": "datum.month == 'December' && datum.site > 2"}],
          "mark": {"type": "text", "fontSize": 14, "color": "black", "align": "center", "baseline": "middle", "dy": 1},
          "encoding": {"text": {"field": "site", "type": "nominal"}}
        },
        {
          "data": {"name": "arrows"},
          "transform": [{"filter": "datum.month == 'December'"}],
          "mark": {"type": "rule", "color": "black", "strokeWidth": 1.3},
          "encoding": {"x2": {"field": "dim1_end"}, "y2": {"field": "dim2_end"}}
        },
        {
          "data": {"name": "arrows"},
          "transform": [{"filter": "datum.month == 'December'"}],
          "mark": {"type": "point", "shape": "M0,0L-0.6,1.6L0.6,1.6Z", "size": 100, "filled": true, "color": "black", "strokeWidth": 0, "opacity": 1, "angle": 156.3},
          "encoding": {
            "x": {"field": "dim1_end", "type": "quantitative", "title": "Dim1", "scale": {"domain": [-0.4041, 0.1684], "nice": false, "zero": false}},
            "y": {"field": "dim2_end", "type": "quantitative", "title": "Dim2", "scale": {"domain": [-0.0724, 0.0996], "nice": false, "zero": false}}
          }
        },
        {
          "data": {"name": "arrows"},
          "transform": [{"filter": "datum.month == 'December'"}],
          "mark": {"type": "text", "fontSize": 9.5, "fontWeight": "bold", "color": "black", "align": "center", "baseline": "middle", "lineBreak": "\n", "lineHeight": 10.5},
          "encoding": {
            "x": {"field": "label_dim1", "type": "quantitative", "title": "Dim1", "scale": {"domain": [-0.4041, 0.1684], "nice": false, "zero": false}},
            "y": {"field": "label_dim2", "type": "quantitative", "title": "Dim2", "scale": {"domain": [-0.0724, 0.0996], "nice": false, "zero": false}},
            "text": {"field": "label", "type": "nominal"}
          }
        }
      ]
    }
  ],
  "config": {
    "font": "Liberation Sans",
    "view": {"stroke": "black", "strokeWidth": 2.5},
    "axis": {"grid": false, "domain": false, "ticks": true, "tickColor": "black", "tickSize": 4, "tickWidth": 1, "labelFont": "Liberation Sans", "labelFontSize": 11, "labelFontWeight": "bold", "labelColor": "black", "labelPadding": 4, "titleFont": "Liberation Sans", "titleFontSize": 11, "titleFontWeight": "bold", "titleColor": "black"},
    "axisX": {"titlePadding": 2},
    "axisY": {"labelPadding": 6, "titlePadding": 7},
    "title": {"anchor": "start", "fontSize": 27, "fontWeight": "normal", "font": "Liberation Sans", "color": "black", "offset": 2.5, "baseline": "alphabetic", "frame": "group"},
    "legend": {"labelFont": "Liberation Sans", "labelFontSize": 13.5, "labelFontWeight": "bold", "labelColor": "black", "titleFont": "Liberation Sans", "titleFontSize": 11.5, "titleFontWeight": "bold", "titleColor": "black", "labelLimit": 300, "symbolBaseFillColor": "white", "symbolBaseStrokeColor": "black"}
  }
}
